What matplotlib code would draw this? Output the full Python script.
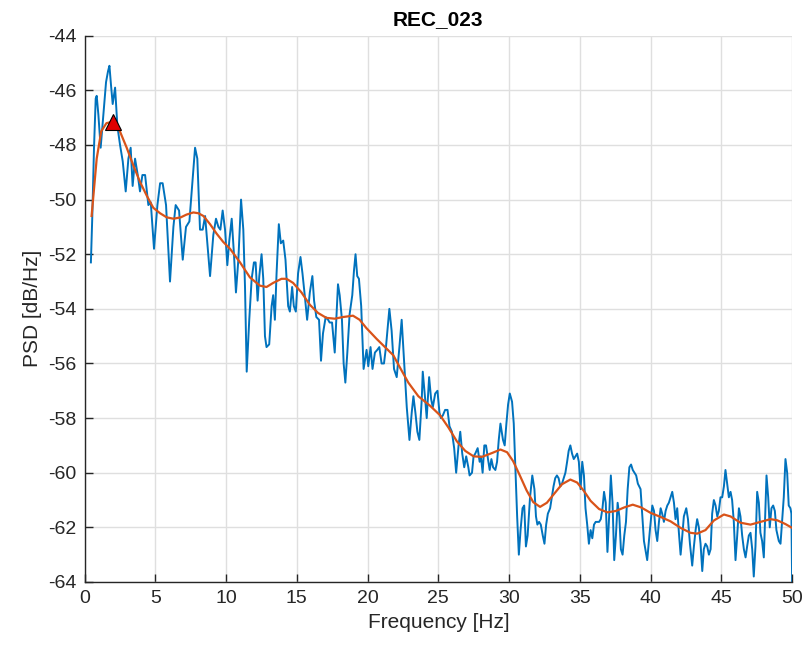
import numpy as np
import matplotlib
matplotlib.use("Agg")
import matplotlib.pyplot as plt

# raw PSD (blue)
freq_raw = [0.45, 0.55, 0.67, 0.79, 0.86, 0.98, 1.14, 1.33, 1.52, 1.66, 1.76, 1.87, 1.99, 2.16, 2.32,
            2.51, 2.70, 2.91, 3.10, 3.26, 3.40, 3.57, 3.76, 3.92, 4.09, 4.28, 4.51, 4.68, 4.91, 5.15,
            5.34, 5.52, 5.76, 6.04, 6.28, 6.44, 6.68, 6.94, 7.17, 7.41, 7.62, 7.81, 7.97, 8.16, 8.35,
            8.52, 8.63, 8.87, 9.10, 9.29, 9.46, 9.60, 9.76, 9.93, 10.09, 10.23, 10.40, 10.56, 10.70,
            10.87, 11.06, 11.22, 11.34, 11.46, 11.64, 11.81, 11.97, 12.09, 12.23, 12.35, 12.51, 12.63,
            12.75, 12.86, 13.05, 13.22, 13.33, 13.45, 13.57, 13.73, 13.87, 14.04, 14.20, 14.39, 14.51,
            14.67, 14.79, 14.93, 15.09, 15.26, 15.40, 15.56, 15.73, 15.92, 16.10, 16.22, 16.38, 16.57,
            16.71, 16.85, 17.04, 17.21, 17.32, 17.49, 17.68, 17.79, 17.91, 18.03, 18.19, 18.31, 18.43,
            18.57, 18.73, 18.92, 19.04, 19.15, 19.27, 19.39, 19.55, 19.72, 19.93, 20.05, 20.21, 20.35,
            20.52, 20.69, 20.83, 20.99, 21.16, 21.30, 21.54, 21.70, 21.87, 22.06, 22.25, 22.41, 22.58,
            22.77, 22.96, 23.12, 23.24, 23.38, 23.52, 23.66, 23.83, 23.90, 24.07, 24.18, 24.35, 24.49,
            24.61, 24.78, 24.94, 25.08, 25.18, 25.32, 25.48, 25.65, 25.79, 25.96, 26.12, 26.26, 26.43,
            26.55, 26.69, 26.83, 26.97, 27.12, 27.21, 27.38, 27.49, 27.61, 27.78, 27.92, 28.01, 28.13,
            28.25, 28.37, 28.51, 28.63, 28.75, 28.87, 29.03, 29.15, 29.27, 29.39, 29.57, 29.69, 29.81,
            29.93, 30.05, 30.21, 30.33, 30.45, 30.57, 30.69, 30.81, 30.95, 31.07, 31.19, 31.31, 31.48,
            31.64, 31.79, 31.90, 32.00, 32.12, 32.24, 32.38, 32.50, 32.62, 32.74, 32.90, 33.02, 33.14,
            33.26, 33.38, 33.50, 33.62, 33.74, 33.86, 33.98, 34.10, 34.21, 34.33, 34.45, 34.57, 34.69,
            34.81, 34.93, 35.05, 35.17, 35.29, 35.40, 35.52, 35.64, 35.76, 35.88, 36.00, 36.12, 36.24,
            36.36, 36.48, 36.60, 36.71, 36.83, 36.95, 37.07, 37.19, 37.31, 37.43, 37.55, 37.67, 37.79,
            37.90, 38.02, 38.14, 38.26, 38.38, 38.50, 38.62, 38.74, 38.86, 38.98, 39.10, 39.29, 39.53,
            39.76, 39.95, 40.12, 40.24, 40.35, 40.47, 40.59, 40.71, 40.82, 40.94, 41.06, 41.18, 41.29,
            41.41, 41.53, 41.65, 41.76, 41.88, 42.00, 42.12, 42.24, 42.35, 42.52, 42.64, 42.78, 42.94,
            43.06, 43.18, 43.29, 43.41, 43.53, 43.65, 43.76, 43.88, 44.00, 44.12, 44.24, 44.35, 44.47,
            44.59, 44.71, 44.82, 44.94, 45.06, 45.18, 45.29, 45.41, 45.53, 45.65, 45.76, 45.88, 46.00,
            46.12, 46.24, 46.35, 46.47, 46.59, 46.71, 46.82, 46.94, 47.06, 47.18, 47.29, 47.41, 47.53,
            47.65, 47.76, 47.88, 48.00, 48.12, 48.19, 48.31, 48.42, 48.54, 48.66, 48.78, 48.89, 49.06,
            49.18, 49.29, 49.41, 49.53, 49.65, 49.76, 49.88, 49.95, 50.00]
psd_raw = [-52.3, -50.6, -48.1, -46.3, -46.2, -46.9, -48.1, -46.9, -45.7, -45.3, -45.1, -45.8, -46.5, -45.9, -47.3,
           -48.0, -48.6, -49.7, -48.5, -48.1, -49.5, -48.5, -49.1, -49.7, -49.1, -49.1, -50.2, -50.1, -51.8, -50.2,
           -49.4, -49.4, -50.2, -53.0, -51.0, -50.2, -50.4, -52.2, -51.0, -50.8, -49.4, -48.1, -48.5, -51.1, -51.1,
           -50.6, -51.3, -52.8, -51.3, -50.7, -51.0, -51.1, -50.4, -51.1, -52.4, -51.5, -50.7, -52.0, -53.4,
           -52.2, -50.0, -51.1, -53.2, -56.3, -54.4, -52.9, -52.3, -52.3, -53.7, -52.8, -52.0, -52.9,
           -55.0, -55.4, -55.3, -53.9, -53.5, -54.4, -52.7, -50.9, -51.6, -51.5, -52.2, -53.9, -54.1,
           -53.2, -53.9, -54.1, -52.7, -52.1, -52.7, -53.5, -54.4, -53.4, -52.8, -53.7, -54.3, -54.4,
           -55.9, -54.9, -54.3, -54.4, -54.5, -54.5, -55.6, -54.4, -53.1, -53.5, -54.4, -56.0, -56.7,
           -55.6, -54.2, -53.5, -52.6, -52.0, -52.8, -52.9, -53.9, -56.2, -55.5, -56.1, -55.4, -56.2,
           -55.6, -55.5, -55.4, -56.0, -56.0, -55.4, -54.0, -54.8, -56.2, -56.5, -55.4, -54.4, -55.9,
           -57.6, -58.8, -57.8, -57.2, -57.8, -58.5, -58.8, -57.3, -56.3, -57.3, -58.0, -56.5, -57.3,
           -57.6, -57.1, -57.0, -57.8, -58.0, -57.9, -57.7, -57.7, -58.3, -58.5, -59.1, -60.0, -59.0,
           -58.5, -59.3, -59.8, -59.4, -59.8, -60.1, -60.0, -59.4, -59.3, -59.1, -59.6, -59.4, -60.0,
           -59.0, -59.0, -59.5, -59.9, -59.5, -59.8, -59.9, -59.6, -58.8, -58.2, -58.8, -59.0, -58.2,
           -57.5, -57.1, -57.4, -58.2, -59.9, -61.6, -63.0, -62.1, -61.3, -61.2, -62.7, -62.3, -60.9,
           -60.1, -60.6, -61.6, -61.9, -61.8, -61.9, -62.3, -62.6, -61.9, -61.5, -61.3, -60.9, -60.5,
           -60.2, -60.1, -60.2, -60.5, -60.4, -60.2, -60.0, -59.6, -59.2, -59.0, -59.3, -59.5, -59.4,
           -59.3, -59.6, -60.6, -59.6, -60.1, -61.3, -61.9, -62.6, -62.1, -62.4, -61.9, -61.8, -61.8,
           -61.8, -61.7, -61.3, -60.7, -61.1, -62.9, -61.6, -60.1, -61.1, -63.2, -62.3, -61.1, -61.6,
           -62.8, -63.0, -62.3, -61.8, -60.6, -59.8, -59.7, -59.9, -60.0, -60.1, -60.4, -60.6, -62.5,
           -63.2, -62.1, -61.2, -61.4, -62.1, -62.5, -61.8, -61.3, -61.5, -61.8, -61.4, -61.2, -61.1,
           -60.9, -60.7, -61.1, -61.7, -61.3, -62.2, -63.0, -62.3, -61.6, -61.3, -61.7, -62.6, -63.4,
           -62.7, -62.1, -61.7, -62.0, -62.6, -63.6, -62.8, -62.6, -62.7, -63.0, -62.8, -61.5, -61.0,
           -61.2, -61.6, -61.4, -60.9, -60.9, -60.5, -59.9, -60.4, -60.9, -60.7, -61.0, -61.8, -63.2,
           -62.3, -61.3, -61.6, -62.3, -62.8, -63.1, -62.7, -62.3, -62.2, -62.8, -63.8, -62.7, -60.7,
           -61.1, -62.2, -62.5, -63.1, -61.2, -60.1, -60.9, -62.0, -61.3, -61.2, -61.4, -62.1, -62.5,
           -62.6, -61.8, -60.9, -59.5, -60.0, -61.2, -61.3, -61.5, -64.0]

# smoothed PSD (orange)
freq_fit = [0.50, 0.86, 1.18, 1.55, 2.00, 2.50, 2.98, 3.45, 3.92, 4.39, 4.86, 5.34, 5.81, 6.28, 6.80,
            7.20, 7.69, 8.05, 8.40, 8.87, 9.34, 9.80, 10.28, 10.99, 11.69, 12.39, 12.86, 13.33, 13.92,
            14.27, 14.74, 15.33, 15.92, 16.50, 17.09, 17.68, 18.26, 18.97, 19.44, 19.91, 20.64, 21.23,
            21.82, 22.29, 22.88, 23.59, 24.42, 25.13, 25.72, 26.31, 26.90, 27.49, 28.08, 28.79, 29.39,
            29.86, 30.29, 30.76, 31.24, 31.71, 32.19, 32.67, 33.14, 33.74, 34.33, 34.81, 35.29, 35.76,
            36.36, 36.95, 37.55, 38.14, 38.74, 39.33, 40.00, 40.71, 41.41, 42.12, 42.82, 43.29, 43.88,
            44.47, 45.18, 45.65, 46.35, 47.06, 47.76, 48.47, 48.94, 49.53, 50.00]
psd_fit = [-50.6, -48.5, -47.5, -47.2, -47.15, -47.5, -48.1, -48.75, -49.35, -49.85, -50.3, -50.5, -50.65, -50.7, -50.65,
           -50.55, -50.47, -50.5, -50.6, -50.9, -51.25, -51.55, -51.8, -52.3, -52.85, -53.15, -53.2, -53.05, -52.9,
           -52.9, -53.05, -53.4, -53.85, -54.15, -54.33, -54.36, -54.3, -54.25, -54.4, -54.7, -55.1, -55.4,
           -55.7, -56.15, -56.7, -57.2, -57.55, -57.9, -58.35, -58.85, -59.2, -59.4, -59.42, -59.28, -59.15,
           -59.25, -59.58, -60.1, -60.65, -61.08, -61.25, -61.1, -60.8, -60.42, -60.25, -60.36, -60.67, -61.03,
           -61.33, -61.45, -61.4, -61.27, -61.17, -61.27, -61.47, -61.62, -61.78, -62.02, -62.2, -62.23, -62.1,
           -61.75, -61.53, -61.6, -61.83, -61.9, -61.8, -61.7, -61.74, -61.88, -62.02]

peak_freq = 2.0
peak_psd = -47.15

xticks = list(range(0, 51, 5))
yticks = list(range(-64, -43, 2))

plt.rcParams['font.family'] = ['Liberation Sans', 'DejaVu Sans']
plt.rcParams['axes.unicode_minus'] = False

fig = plt.figure(figsize=(8.05, 6.52), dpi=100)
ax = fig.add_axes([0.105, 0.1074, 0.879, 0.8378])

ax.plot(freq_raw, psd_raw, color='#0072BD', lw=1.4, solid_joinstyle='round')
ax.plot(freq_fit, psd_fit, color='#D95319', lw=1.6, solid_joinstyle='round')
ax.plot([peak_freq], [peak_psd], marker='^', color='#E00000', markeredgecolor='black',
        markersize=11, markeredgewidth=0.8, linestyle='none')

ax.set_xlim(0, 50)
ax.set_ylim(-64, -44)
ax.set_xticks(xticks)
ax.set_yticks(yticks)
ax.grid(True, color='#dfdfdf', lw=1.0)
ax.set_axisbelow(True)

for s in ['top', 'right']:
    ax.spines[s].set_visible(False)
for s in ['left', 'bottom']:
    ax.spines[s].set_color('#262626')
    ax.spines[s].set_linewidth(1.0)

ax.tick_params(direction='in', length=6, width=1.0, colors='#262626', labelsize=14, pad=6)
ax.set_xlabel('Frequency [Hz]', fontsize=15, color='#262626', labelpad=4)
ax.set_ylabel('PSD [dB/Hz]', fontsize=15, color='#262626', labelpad=4)
ax.set_title('REC_023', fontsize=15, fontweight='bold', pad=8)

fig.savefig('out.png', dpi=100)
